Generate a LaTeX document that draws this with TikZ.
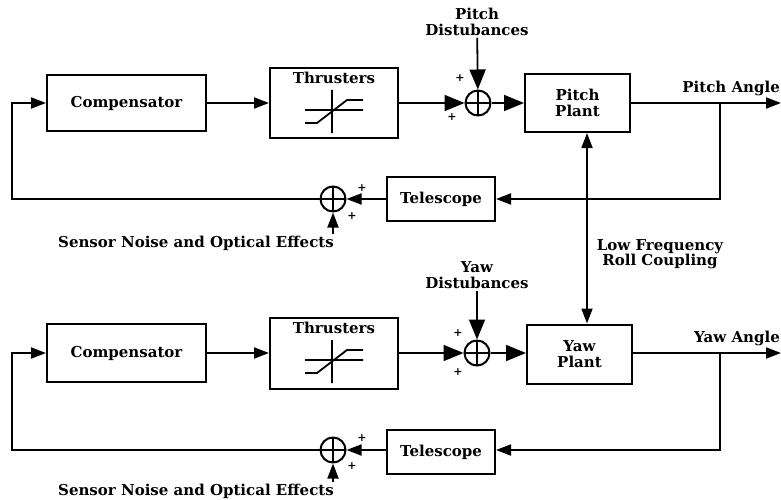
\documentclass[tikz,border=0pt]{standalone}
\usepackage{fontspec}
\setmainfont{DejaVu Serif}
\usepackage{tikz}
\usetikzlibrary{arrows.meta,positioning,calc}
\tikzset{
  blk/.style={draw,line width=2pt,align=center,inner sep=2pt,
              font=\fontsize{15}{16}\selectfont\bfseries},
  lbl/.style={align=center,inner sep=2pt,font=\fontsize{15}{15.5}\selectfont\bfseries},
  pls/.style={inner sep=0pt,font=\fontsize{11}{11}\selectfont\bfseries},
  sumj/.style={circle,draw,line width=2pt,minimum size=25pt,inner sep=0pt,
               path picture={\draw[line width=1.6pt]
                 (path picture bounding box.north)--(path picture bounding box.south)
                 (path picture bounding box.west)--(path picture bounding box.east);}},
  sig/.style={-{Triangle[length=15pt,width=11pt]},line width=1.8pt},
  sigbig/.style={-{Triangle[length=20pt,width=16pt]},line width=1.8pt},
  satcurve/.pic={\draw[line width=1.8pt] (-29,7)--(29,7) (-2,-13)--(-2,30)
                 (-29,20)--(-17,20)--(13,-3)--(29,-3);},
}
\begin{document}
\begin{tikzpicture}[x=1pt,y=-1pt]
  \useasboundingbox (0,0) rectangle (781,500);
  % pitch loop
  \node[blk,minimum width=159pt,minimum height=56pt] (comp1) at (126.5,103) {Compensator};
  \node[blk,minimum width=128pt,minimum height=70pt,
        label={[lbl,anchor=north,yshift=-3pt]north:Thrusters}] (thr1) at (334,103) {};
  \pic at (thr1) {satcurve};
  \node[sumj] (sum1) at (478,103) {};
  \node[blk,minimum width=105pt,minimum height=58pt] (plant1) at (577.5,103) {Pitch\\Plant};
  \node[blk,minimum width=108pt,minimum height=44pt] (tel1) at (441,199) {Telescope};
  \node[sumj] (fbs1) at (333,199) {};
  \node[lbl] (dist1) at (477,22) {Pitch\\Distubances};
  \node[lbl,anchor=south east] (ang1) at (782,98) {Pitch Angle};
  \node[lbl] (noise1) at (196,243) {Sensor Noise and Optical Effects};
  \coordinate (out1) at (781,103);
  \coordinate (br1) at (720,103);
  \coordinate (lc1) at (12,199);
  \node[pls] (p1a) at (460,78) {+};
  \node[pls] (p1b) at (452,117) {+};
  \node[pls] (p1c) at (362,188) {+};
  \node[pls] (p1d) at (352,216) {+};

  % yaw loop
  \node[blk,minimum width=159pt,minimum height=58pt] (comp2) at (126.5,353) {Compensator};
  \node[blk,minimum width=128pt,minimum height=71pt,
        label={[lbl,anchor=north,yshift=-3pt]north:Thrusters}] (thr2) at (334,353) {};
  \pic at (thr2) {satcurve};
  \node[sumj] (sum2) at (477,353) {};
  \node[blk,minimum width=105pt,minimum height=59pt] (plant2) at (579.5,354) {Yaw\\Plant};
  \node[blk,minimum width=108pt,minimum height=44pt] (tel2) at (441,452) {Telescope};
  \node[sumj] (fbs2) at (333,450) {};
  \node[lbl] (dist2) at (477,275) {Yaw\\Distubances};
  \node[lbl,anchor=south east] (ang2) at (782,348) {Yaw Angle};
  \node[lbl] (noise2) at (196,491) {Sensor Noise and Optical Effects};
  \coordinate (out2) at (781,353);
  \coordinate (br2) at (720,353);
  \coordinate (lc2) at (12,450);
  \node[pls] (p2a) at (458,333) {+};
  \node[pls] (p2b) at (458,372) {+};
  \node[pls] (p2c) at (362,438) {+};
  \node[pls] (p2d) at (352,466) {+};

  % roll coupling
  \coordinate (roll) at (587,0);
  \node[lbl] (coup) at (660,254) {Low Frequency\\Roll Coupling};

  \foreach \n in {1,2}{
    \draw[sig] (comp\n) -- (thr\n);
    \draw[sigbig] (thr\n) -- (sum\n);
    \draw[sigbig] (sum\n) -- (plant\n.west|-sum\n);
    \draw[sig] (plant\n.east|-sum\n) -- (out\n);
    \draw[sig] (br\n) |- (tel\n.east|-fbs\n);
    \draw[sig] (tel\n.west|-fbs\n) -- (fbs\n);
    \draw[sig] (fbs\n) -- (lc\n) |- (comp\n.west|-sum\n);
    \draw[sigbig] (dist\n) -- (sum\n);
    \draw[sig] (noise\n.north-|fbs\n) -- (fbs\n);
  }
  \draw[{Triangle[length=15pt,width=11pt]}-{Triangle[length=15pt,width=11pt]},line width=1.8pt]
    (plant1.south-|roll) -- (plant2.north-|roll);
\end{tikzpicture}
\end{document}
